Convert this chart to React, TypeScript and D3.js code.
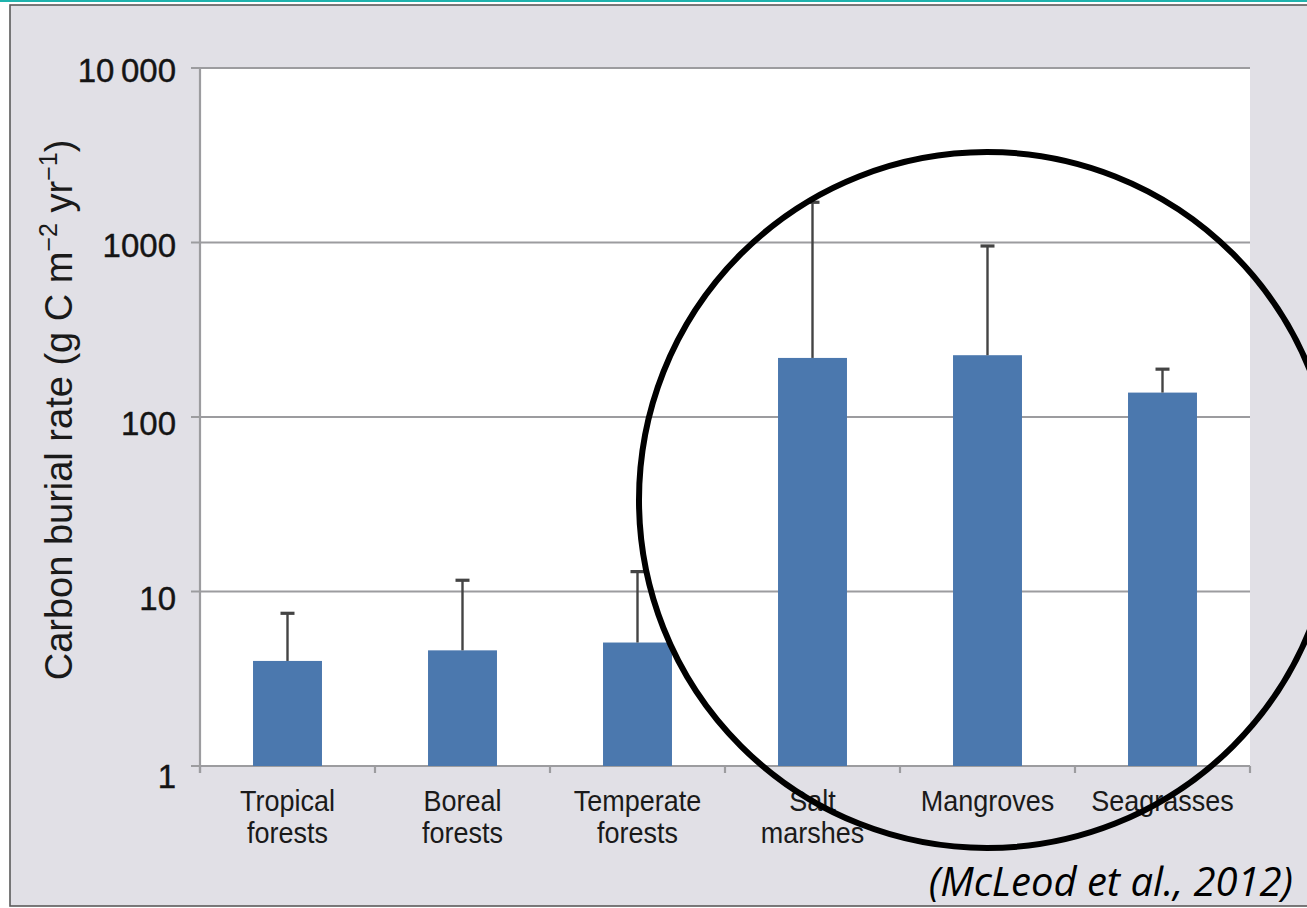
import React from "react";
import * as d3 from "d3";

// Mean carbon burial rates per ecosystem (g C m^-2 yr^-1) and the top of each error bar
const categories = ["Tropical forests", "Boreal forests", "Temperate forests", "Salt marshes", "Mangroves", "Seagrasses"];
const categoryLines = [
  ["Tropical", "forests"],
  ["Boreal", "forests"],
  ["Temperate", "forests"],
  ["Salt", "marshes"],
  ["Mangroves"],
  ["Seagrasses"],
];
const meanRate = [4.0, 4.6, 5.1, 218, 226, 138];
const errorTop = [7.5, 11.6, 13.0, 1700, 955, 188];
const yTickValues = [1, 10, 100, 1000, 10000];
const yTickLabels = ["1", "10", "100", "1000", "10\u2009000"];

const W = 1307;
const H = 908;
const plot = { left: 200, right: 1250, top: 68, bottom: 766 };

const BG = "#e1e0e6";
const GRID = "#9c9c9f";
const BAR = "#4b78ae";
const ERR = "#444444";
const FONT = "'Liberation Sans', Arial, Helvetica, sans-serif";

// small per-label vertical nudges of the tick text relative to its gridline
const tickNudge: Record<number, number> = { 1: 10, 10: 7, 100: 6, 1000: 3, 10000: 2 };

export default function App() {
  const x = d3.scaleBand<string>().domain(categories).range([plot.left, plot.right]).padding(0);
  const y = d3.scaleLog().domain([1, 10000]).range([plot.bottom, plot.top]);
  const barW = x.bandwidth() * 0.394;
  const capW = 14;
  const boundaries = [...categories.map((c) => x(c) as number), plot.right];

  return (
    <svg
      width={W}
      height={H}
      viewBox={`0 0 ${W} ${H}`}
      style={{ position: "absolute", left: 0, top: 0, background: "#ffffff" }}
    >
      {/* slide frame */}
      <rect x={0} y={0} width={W} height={2} fill="#1fb3ad" />
      <rect x={10} y={5} width={W + 20} height={901} fill={BG} stroke="#5a5a5a" strokeWidth={1.6} />

      {/* plotting area */}
      <rect x={plot.left} y={plot.top} width={plot.right - plot.left} height={plot.bottom - plot.top} fill="#ffffff" />

      {/* horizontal gridlines with left ticks */}
      {yTickValues.map((v) => (
        <line key={`g${v}`} x1={191} x2={plot.right} y1={y(v)} y2={y(v)} stroke={GRID} strokeWidth={2.2} />
      ))}
      {/* left axis */}
      <line x1={plot.left} x2={plot.left} y1={plot.top} y2={plot.bottom + 7} stroke={GRID} strokeWidth={2.2} />
      {/* category boundary ticks */}
      {boundaries.map((bx, i) => (
        <line key={`t${i}`} x1={bx} x2={bx} y1={plot.bottom} y2={plot.bottom + 7} stroke={GRID} strokeWidth={2.2} />
      ))}

      {/* y tick labels */}
      {yTickValues.map((v, i) => (
        <text
          key={`l${v}`}
          x={176}
          y={y(v) + tickNudge[v]}
          textAnchor="end"
          dominantBaseline="central"
          fontFamily={FONT}
          fontSize={33}
          fill="#141414"
          stroke="#141414"
          strokeWidth={0.4}
        >
          {yTickLabels[i]}
        </text>
      ))}

      {/* bars */}
      {categories.map((c, i) => {
        const cx = (x(c) as number) + x.bandwidth() / 2;
        return (
          <rect
            key={`b${c}`}
            x={cx - barW / 2}
            y={y(meanRate[i])}
            width={barW}
            height={plot.bottom - y(meanRate[i])}
            fill={BAR}
          />
        );
      })}

      {/* error bars (upper only) */}
      {categories.map((c, i) => {
        const cx = (x(c) as number) + x.bandwidth() / 2;
        return (
          <g key={`e${c}`} stroke={ERR}>
            <line x1={cx} x2={cx} y1={y(meanRate[i])} y2={y(errorTop[i])} strokeWidth={2.4} />
            <line x1={cx - capW / 2} x2={cx + capW / 2} y1={y(errorTop[i])} y2={y(errorTop[i])} strokeWidth={3.2} />
          </g>
        );
      })}

      {/* category labels */}
      {categories.map((c, i) => {
        const cx = (x(c) as number) + x.bandwidth() / 2;
        return (
          <text
            key={`c${c}`}
            transform={`translate(${cx}, 0) scale(0.9, 1)`}
            textAnchor="middle"
            fontFamily={FONT}
            fontSize={30}
            fill="#1a1a1a"
          >
            {categoryLines[i].map((ln, j) => (
              <tspan key={j} x={0} y={811 + j * 32}>
                {ln}
              </tspan>
            ))}
          </text>
        );
      })}

      {/* y axis title */}
      <text
        transform={`translate(72, 410) rotate(-90)`}
        textAnchor="middle"
        fontFamily={FONT}
        fontSize={38}
        fill="#1a1a1a"
      >
        Carbon burial rate (g C m
        <tspan fontSize={25} dy={-15}>{"\u22122"}</tspan>
        <tspan dy={15}> yr</tspan>
        <tspan fontSize={25} dy={-15}>{"\u22121"}</tspan>
        <tspan dy={15}>)</tspan>
      </text>

      {/* highlight circle around coastal ecosystems */}
      <circle cx={987} cy={500} r={348} fill="none" stroke="#000000" strokeWidth={6} />

      {/* source */}
      <text x={1293} y={896} textAnchor="end" fontFamily="'Open Sans', Lato, sans-serif" fontStyle="italic" fontSize={40} fill="#000000">
        (McLeod et al., 2012)
      </text>
    </svg>
  );
}
